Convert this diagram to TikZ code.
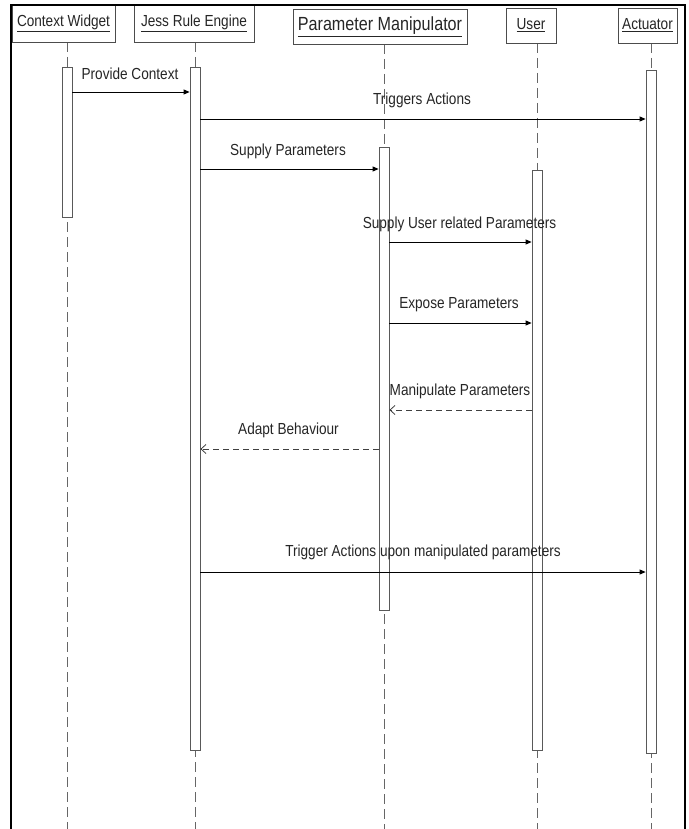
\documentclass[tikz,border=0pt]{standalone}
\usepackage{fontspec}
\setmainfont{Liberation Sans}[FakeStretch=0.85]
\usetikzlibrary{arrows.meta}
\begin{document}
\begin{tikzpicture}[x=1pt,y=-1pt,
  head/.style={draw=black!70, line width=0.8pt, fill=white, inner sep=0pt, text=black!85, font=\fontsize{16}{18}\selectfont},
  bigtext/.style={font=\fontsize{19}{21}\selectfont},
  bar/.style={draw=black!65, fill=white, line width=0.8pt, minimum width=10pt, inner sep=0pt},
  life/.style={draw=black!60, line width=0.8pt, dash pattern=on 10pt off 5pt},
  msg/.style={draw=black, line width=0.8pt, -{Triangle[length=6pt,width=5pt]}},
  ret/.style={draw=black!75, line width=0.8pt, dash pattern=on 6pt off 4pt, -{Straight Barb[length=5pt,width=9pt]}},
  lbl/.style={inner sep=0pt, text=black!85, font=\fontsize{16}{18}\selectfont}]
\useasboundingbox (0,0) rectangle (688,829);
\fill[white] (0,0) rectangle (688,829);

% lifelines
\coordinate (lcw) at (67,42);  \coordinate (lcwe) at (67,829);
\coordinate (ljr) at (195,42); \coordinate (ljre) at (195,829);
\coordinate (lpm) at (384,44); \coordinate (lpme) at (384,829);
\coordinate (lus) at (537,43); \coordinate (luse) at (537,829);
\coordinate (lac) at (651,43); \coordinate (lace) at (651,829);
\draw[life] (lcw) -- (lcwe);
\draw[life] (ljr) -- (ljre);
\draw[life] (lpm) -- (lpme);
\draw[life] (lus) -- (luse);
\draw[life] (lac) -- (lace);

% headers
\node[head, minimum width=103pt, minimum height=37pt] (cw) at (63.5,23.5) {\underline{Context Widget}};
\node[head, minimum width=120pt, minimum height=37pt] (jr) at (194,23.5) {\underline{Jess Rule Engine}};
\node[head, bigtext, minimum width=174pt, minimum height=35pt] (pm) at (380,26.5) {\underline{Parameter Manipulator}};
\node[head, minimum width=50pt, minimum height=35pt] (us) at (531,25.5) {\underline{User}};
\node[head, minimum width=59pt, minimum height=35pt] (ac) at (647.5,25.5) {\underline{Actuator}};

% activation bars
\node[bar, minimum height=150pt] (cwb) at (67,142) {};
\node[bar, minimum height=683pt] (jrb) at (195,408.5) {};
\node[bar, minimum height=463pt] (pmb) at (384,378.5) {};
\node[bar, minimum height=580pt] (usb) at (537,460) {};
\node[bar, minimum height=683pt] (acb) at (651,411.5) {};

% message rows
\coordinate (m1) at (0,92);
\coordinate (m2) at (0,119);
\coordinate (m3) at (0,169);
\coordinate (m4) at (0,242);
\coordinate (m5) at (0,323);
\coordinate (m6) at (0,410);
\coordinate (m7) at (0,449);
\coordinate (m8) at (0,572);

\draw[msg] (cwb.east |- m1) -- (jrb.west |- m1);
\draw[msg] (jrb.east |- m2) -- (acb.west |- m2);
\draw[msg] (jrb.east |- m3) -- (pmb.west |- m3);
\draw[msg] (pmb.east |- m4) -- (usb.west |- m4);
\draw[msg] (pmb.east |- m5) -- (usb.west |- m5);
\draw[ret] (usb.west |- m6) -- (pmb.east |- m6);
\draw[ret] (pmb.west |- m7) -- (jrb.east |- m7);
\draw[msg] (jrb.east |- m8) -- (acb.west |- m8);

% labels
\node[lbl] (t1) at (130,74) {Provide Context};
\node[lbl] (t2) at (422,100) {Triggers Actions};
\node[lbl] (t3) at (288,151) {Supply Parameters};
\node[lbl] (t4) at (459.5,224) {Supply User related Parameters};
\node[lbl] (t5) at (459,305) {Expose Parameters};
\node[lbl] (t6) at (460,391) {Manipulate Parameters};
\node[lbl] (t7) at (288.5,430) {Adapt Behaviour};
\node[lbl] (t8) at (423,552) {Trigger Actions upon manipulated parameters};

% outer frame
\draw[line width=2.6pt, black] (11,835) -- (11,5) -- (685,5) -- (685,835);
\end{tikzpicture}
\end{document}
